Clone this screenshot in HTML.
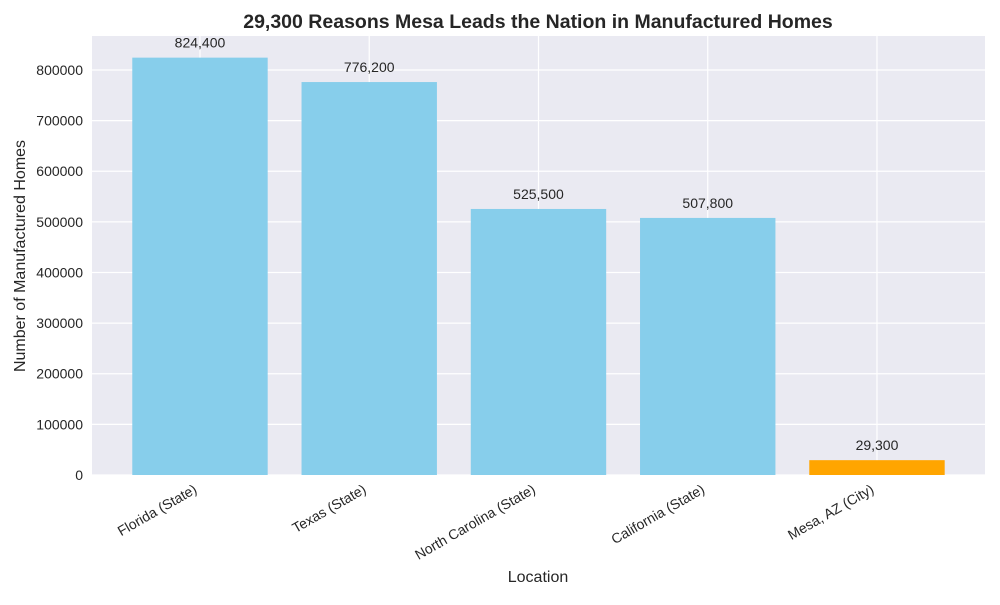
<!DOCTYPE html>
<html><head><meta charset="utf-8"><style>
body{margin:0;background:#fff;font-family:"Liberation Sans",sans-serif;}
svg text{font-family:"Liberation Sans",sans-serif;}
</style></head><body>
<svg id="chart" width="1000" height="600" xmlns="http://www.w3.org/2000/svg">
<rect x="0" y="0" width="1000" height="600" fill="#fff"/>
<rect x="92" y="36" width="893" height="439" fill="#eaeaf2"/>
<g id="grid"></g><g id="bars"></g><g id="labels"></g><g id="yticks"></g><g id="xticks"></g>
<text x="538" y="28" text-anchor="middle" font-size="19.5" font-weight="bold" fill="#262626">29,300 Reasons Mesa Leads the Nation in Manufactured Homes</text>
<text x="538" y="582" text-anchor="middle" font-size="16" fill="#262626">Location</text>
<text x="25" y="256" text-anchor="middle" font-size="16" fill="#262626" transform="rotate(-90 25 256)">Number of Manufactured Homes</text>
</svg>
<script>
const categories=["Florida (State)","Texas (State)","North Carolina (State)","California (State)","Mesa, AZ (City)"];
const values=[824400,776200,525500,507800,29300];
const valueLabels=["824,400","776,200","525,500","507,800","29,300"];
const colors=["#87ceeb","#87ceeb","#87ceeb","#87ceeb","#ffa500"];
const yTicks=[0,100000,200000,300000,400000,500000,600000,700000,800000];
const NS="http://www.w3.org/2000/svg";
const x0=92,x1=985,y0=475,y1=36;
const yMax=867160;
const xMin=-0.638,xMax=xMin+893/169.25;
function xs(i){return x0+(i-xMin)/(xMax-xMin)*(x1-x0);}
function ys(v){return y0-v/yMax*(y0-y1);}
function mk(tag,attrs,parent){const e=document.createElementNS(NS,tag);for(const k in attrs)e.setAttribute(k,attrs[k]);document.getElementById(parent).appendChild(e);return e;}
yTicks.forEach(t=>{
  const l=mk("line",{x1:x0,x2:x1,y1:ys(t),y2:ys(t),stroke:"#fff","stroke-width":1.2},"grid");
  
  
  const tx=mk("text",{x:83,y:ys(t)+5,"text-anchor":"end","font-size":14,fill:"#262626"},"yticks");
  tx.textContent=t;
  
  
});
categories.forEach((c,i)=>{
  const cx=xs(i);
  const g=mk("line",{x1:cx,x2:cx,y1:y1,y2:y0,stroke:"#fff","stroke-width":1.2},"grid");
  
  
  const w=0.8*169.25;
  const b=mk("rect",{x:cx-w/2,y:ys(values[i]),width:w,height:y0-ys(values[i]),fill:colors[i]},"bars");
  
  
  const vl=mk("text",{x:cx,y:ys(values[i])-10,"text-anchor":"middle","font-size":14,fill:"#262626"},"labels");
  vl.textContent=valueLabels[i];
  
  
  const lx=cx-2;
  const tl=mk("text",{x:lx,y:492,"text-anchor":"end","font-size":14,fill:"#262626",transform:`rotate(-30 ${lx} 492)`},"xticks");
  tl.textContent=c;
  
  
});
</script>
</body></html>
